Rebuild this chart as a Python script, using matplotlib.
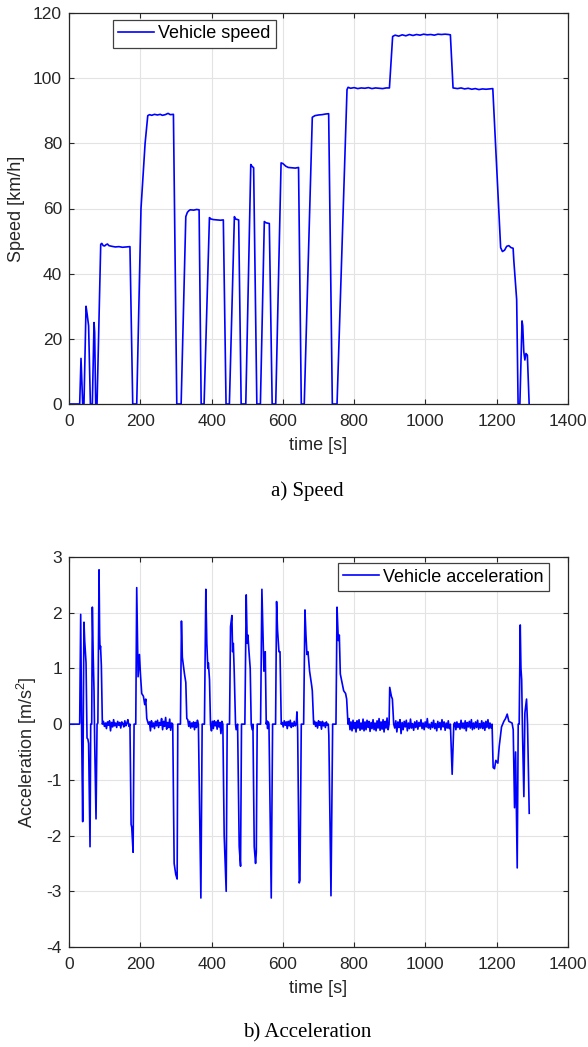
import matplotlib
matplotlib.use("Agg")
import matplotlib.pyplot as plt
import numpy as np

plt.rcParams['font.family'] = ['Liberation Sans', 'DejaVu Sans']
plt.rcParams['axes.unicode_minus'] = False
plt.rcParams['mathtext.fontset'] = 'custom'
plt.rcParams['mathtext.rm'] = 'Liberation Sans'

# speed trace [s], [km/h]
speed_t = [0, 30, 33.7, 38.4, 40, 42, 47.8, 51, 55, 60, 65.5, 70.2, 72, 74.9, 78.7,
           89, 92, 96, 100, 104, 108, 112, 120, 130, 140, 150, 160, 171, 178.8,
           190, 202, 213.5, 221, 226, 232, 240, 248, 256, 262, 270, 278, 284, 293, 302.4,
           314.6, 327.7, 332, 336, 340, 350, 358, 365, 370.8,
           379, 394, 398, 405, 415, 425, 433, 440.6,
           450, 464, 467, 476, 483,
           496, 510, 513, 518, 527,
           537, 548, 553, 562, 570,
           580, 595, 600, 608, 615, 625, 635, 644, 651.7,
           660, 682.6, 690, 700, 710, 720, 728.5, 738.8,
           752, 780, 783, 790, 800, 810, 820, 830, 840, 850, 860, 870, 880, 890, 899,
           908, 915, 925, 935, 945, 955, 965, 975, 985, 995, 1005, 1015, 1025, 1035,
           1045, 1055, 1065, 1070,
           1077.5, 1090, 1100, 1110, 1120, 1130, 1140, 1150, 1160, 1170, 1180, 1189,
           1211, 1216, 1222, 1228, 1234, 1240, 1246, 1248, 1256, 1258, 1260, 1265,
           1271, 1273, 1276, 1279, 1282, 1286, 1291]
speed_v = [0, 0, 14, 0, 0, 0, 30, 27.5, 24, 0, 0, 25, 22, 0, 0,
           49, 49.3, 48.6, 48.5, 48.9, 49.1, 48.6, 48.4, 48.2, 48.3, 48.1, 48.2, 48.3, 0,
           0, 60, 80, 88.5, 88.8, 88.6, 88.9, 88.7, 88.9, 88.6, 88.8, 89.2, 88.8, 88.9, 0,
           0, 57.5, 58.8, 59.3, 59.6, 59.5, 59.7, 59.6, 0,
           0, 57.2, 56.8, 56.6, 56.5, 56.4, 56.5, 0,
           0, 57.5, 56.8, 56.5, 0,
           0, 73.5, 73.0, 72.5, 0,
           0, 56, 55.6, 55.4, 0,
           0, 74, 73.8, 73.0, 72.6, 72.5, 72.4, 72.6, 0,
           0, 88, 88.5, 88.7, 88.8, 89, 89.1, 0,
           0, 96.5, 97.2, 96.9, 97.1, 96.8, 97.0, 96.9, 97.1, 96.8, 97.0, 96.9, 96.8, 97.0, 97.0,
           112.8, 113.2, 112.9, 113.3, 113.0, 113.4, 113.1, 113.4, 113.2, 113.5, 113.3, 113.4, 113.2, 113.5,
           113.4, 113.5, 113.4, 113.3,
           97.0, 96.8, 97.0, 96.7, 96.9, 96.6, 96.8, 96.5, 96.7, 96.6, 96.7, 96.8,
           48, 46.8, 47.2, 48.4, 48.6, 48.0, 47.8, 44, 32, 15, 0, 0,
           25.5, 24, 16, 13.5, 15.5, 15, 0]

# acceleration peaks / steps [s], [m/s^2]
acc_t = [0, 29, 30, 32.8, 35.6, 38.4, 40, 42, 44, 47.8, 50.6, 53, 55, 59, 60.9, 63.7,
         65.5, 68, 70.2, 72, 75.8, 78.7, 81, 84.3, 86, 87, 88.5, 90.8, 93.6,
         171, 174.2, 176, 179.8, 182.6, 187.3, 190, 193.8, 197.6, 200.4, 204, 208.8,
         212.5, 215.4, 218.2, 222.8,
         291, 295, 299.6, 303.4, 305.2, 312.7, 315.5, 318, 321, 324, 327.7, 330.5,
         363, 370, 373.6, 380, 383.9, 386.7, 389.5, 391, 394.2, 397,
         431.6, 435.4, 441, 443.8, 450.4, 453.2, 457, 459, 461, 463.5, 467.2, 469, 473,
         477.5, 481.3, 484, 493.4, 497.2, 500, 502, 505, 508.4, 511.2, 514, 516,
         519.7, 523.4, 525.5, 528, 537.5, 541.2, 544, 546.8, 550.6, 553.4,
         561, 567.4, 571.2, 579.6, 582.4, 585, 589, 592, 595.5,
         637.6, 639.5, 641.5, 646, 648, 651.7, 658.3, 662, 664.8, 667.6, 670.5, 675,
         680.7, 682.6, 686.4,
         727.5, 729, 735, 739.7, 749, 752, 755.6, 758.4, 761.2, 766, 770.6, 776, 779,
         782.8,
         898, 899.8, 904.5, 907.3, 911,
         1070, 1075, 1079.6,
         1187, 1190, 1193.8, 1197.5, 1203.2, 1207, 1208.8, 1213.5, 1220, 1224.7,
         1229.4, 1234, 1243, 1246.3, 1250, 1253, 1257.5, 1260.3, 1263, 1266, 1268,
         1270, 1272.5, 1276.2, 1279, 1283.7, 1286.5, 1291.2]
acc_v = [0, 0, 0.02, 1.97, -0.2, -1.75, 0, 1.83, 1.5, 1.1, -0.25, -0.27, -0.35, -2.2, 0, 0,
         2.1, 1.2, 0.6, -0.3, -1.7, 0, 0.02, 2.77, 1.6, 1.35, 1.4, 1.05, 0,
         0, -1.8, -1.85, -2.3, 0, 0, 2.45, 0.85, 1.25, 0.9, 0.55, 0.5,
         0.35, 0.45, 0.1, 0,
         0, -2.5, -2.7, -2.78, 0, 0, 1.85, 1.2, 1.05, 0.9, 0.75, 0.1,
         0, -3.12, 0, 0, 2.42, 1.45, 1.0, 1.1, 0.8, 0,
         0, -2.0, -3.0, 0, 0, 1.75, 1.95, 1.3, 1.45, 0.95, 0, -0.1, 0,
         -2.2, -2.55, 0, 0, 2.32, 1.45, 1.6, 1.3, 1.0, 0, -0.1, 0,
         -2.2, -2.5, -2.3, 0, 0, 2.42, 1.65, 0.95, 1.3, 0,
         0, -3.12, 0, 0, 2.2, 1.7, 1.3, 1.3, 0,
         0, 0.22, -0.1, -2.85, -2.8, 0, 0, 2.05, 1.6, 1.25, 1.3, 0.95,
         0.7, 0.6, 0,
         0, -0.2, -3.08, 0, 0, 2.1, 1.5, 1.6, 0.9, 0.75, 0.6, 0.55, 0.45,
         0,
         0, 0.66, 0.5, 0.45, 0,
         0, -0.9, 0,
         0, -0.78, -0.8, -0.65, -0.7, -0.4, -0.3, -0.05, 0.05, 0.1,
         0.18, 0.05, 0.02, -0.1, -1.5, -0.5, -2.58, 0, 0, 1.78, 1.0,
         0.8, -0.2, -1.3, 0.2, 0.45, 0, -1.6]

# small ripple on the cruising sections: (start, end, values)
noise_segments = [
    (93.6, 171, [0.05, -0.04, 0.02, -0.08, 0.04, -0.02, 0.06, -0.12, 0.03, -0.05, 0.08, -0.03, 0.02,
                 -0.06, 0.05, -0.02, 0.03, -0.07, 0.04, 0.01, -0.05, 0.06, -0.03, 0.02, 0.08, -0.04]),
    (222.8, 291, [0.04, -0.12, 0.06, -0.05, 0.02, -0.08, 0.05, -0.03, 0.07, -0.06, 0.03, -0.02,
                  0.1, -0.1, 0.05, -0.04, 0.12, -0.09, 0.03, -0.06, 0.09, -0.11, 0.02]),
    (330.5, 363, [0.08, -0.04, 0.05, -0.07, 0.02, -0.05, 0.04, -0.1, 0.03, -0.06, 0.07]),
    (397, 431.6, [-0.12, 0.05, -0.08, 0.06, -0.03, 0.04, -0.09, 0.07, -0.05, 0.03, -0.17, 0.05]),
    (553.4, 561, [0.06, -0.08, 0.04]),
    (595.5, 637.6, [0.03, -0.05, 0.06, -0.02, 0.04, -0.08, 0.05, -0.03, 0.07, -0.06, 0.02, -0.04,
                    0.05, -0.03]),
    (686.4, 727.5, [0.05, -0.04, 0.03, -0.07, 0.06, -0.02, 0.04, -0.09, 0.05, -0.03, 0.02, -0.06,
                    0.04, -0.02]),
    (782.8, 898, [0.1, -0.1, 0.04, -0.12, 0.07, -0.08, 0.03, -0.14, 0.06, -0.07, 0.08, -0.11, 0.02,
                  -0.09, 0.09, -0.12, 0.04, -0.1, 0.07, -0.06, 0.05, -0.13, 0.03, -0.08, 0.08, -0.1,
                  0.02, -0.12, 0.06, -0.07, 0.1, -0.11, 0.04, -0.09, 0.08, -0.14, 0.05, -0.07, 0.11,
                  -0.1]),
    (911, 1070, [-0.07, 0.06, -0.14, 0.04, -0.06, 0.08, -0.17, 0.03, -0.1, 0.05, -0.05, 0.07, -0.12,
                 0.02, -0.08, 0.09, -0.07, 0.01, -0.11, 0.04, -0.06, 0.06, -0.09, 0.03, -0.04, 0.08,
                 -0.08, 0.02, -0.1, 0.04, -0.05, 0.1, -0.07, 0.0, -0.09, 0.03, -0.06, 0.07, -0.08,
                 0.01, -0.12, 0.05, -0.06, 0.03, -0.1, 0.08, -0.05, 0.04, -0.11, 0.02, -0.07, 0.06,
                 -0.08]),
    (1079.6, 1187, [0.03, -0.1, 0.04, -0.06, 0.01, -0.09, 0.07, -0.07, 0.02, -0.08, 0.06, -0.12,
                    0.03, -0.05, 0.05, -0.07, 0.08, -0.1, 0.02, -0.08, 0.04, -0.06, 0.07, -0.09,
                    0.01, -0.07, 0.06, -0.08, 0.03, -0.11, 0.05, -0.06, 0.08, -0.08, 0.02, -0.07]),
]

t_all = list(acc_t)
a_all = list(acc_v)
for t0, t1, vals in noise_segments:
    tt = np.linspace(t0, t1, len(vals) + 2)[1:-1]
    t_all += list(tt)
    a_all += vals
order = np.argsort(t_all, kind='stable')
acc_time = np.array(t_all)[order]
acc_val = np.array(a_all)[order]

blue = '#0000ff'
tick_fs = 12.5
lab_fs = 13

fig = plt.figure(figsize=(5.88, 10.47), dpi=100)
ax1 = fig.add_axes([69/588, 1 - 404/1047, 499/588, 391/1047])
ax2 = fig.add_axes([69/588, 1 - 947/1047, 499/588, 390/1047])


def style(ax):
    ax.grid(True, color='#e3e3e3', linewidth=0.8)
    ax.set_axisbelow(True)
    for s in ax.spines.values():
        s.set_linewidth(0.9)
        s.set_color('#262626')
    ax.tick_params(direction='in', length=3.8, width=0.8, top=True, right=True,
                   labelsize=tick_fs, colors='#262626', labelcolor='#262626')
    ax.tick_params(axis='x', pad=7)
    ax.tick_params(axis='y', pad=5)
    ax.set_xlim(0, 1400)
    ax.set_xticks(np.arange(0, 1401, 200))


ax1.plot(speed_t, speed_v, color=blue, linewidth=1.2, label='Vehicle speed')
style(ax1)
ax1.set_ylim(0, 120)
ax1.set_yticks(np.arange(0, 121, 20))
ax1.set_xlabel('time [s]', fontsize=lab_fs, color='#262626')
ax1.set_ylabel('Speed [km/h]', fontsize=lab_fs, color='#262626')
ax1.xaxis.set_label_coords(0.5, -0.085)
ax1.yaxis.set_label_coords(-0.088, 0.5)
leg1 = ax1.legend(loc='upper left', bbox_to_anchor=(0.0876, 0.982), borderaxespad=0,
                  fontsize=lab_fs, fancybox=False, framealpha=1, edgecolor='#404040',
                  handlelength=2.0, handletextpad=0.2, borderpad=0.3)
leg1.get_frame().set_linewidth(0.9)

ax2.plot(acc_time, acc_val, color=blue, linewidth=1.2, label='Vehicle acceleration')
style(ax2)
ax2.set_ylim(-4, 3)
ax2.set_yticks(np.arange(-4, 4, 1))
ax2.set_xlabel('time [s]', fontsize=lab_fs, color='#262626')
ax2.set_ylabel(r'Acceleration [m/s$^\mathregular{2}$]', fontsize=lab_fs, color='#262626')
ax2.xaxis.set_label_coords(0.5, -0.085)
ax2.yaxis.set_label_coords(-0.0595, 0.5)
leg2 = ax2.legend(loc='upper right', bbox_to_anchor=(0.9613, 0.9838), borderaxespad=0,
                  fontsize=lab_fs, fancybox=False, framealpha=1, edgecolor='#404040',
                  handlelength=2.0, handletextpad=0.2, borderpad=0.3)
leg2.get_frame().set_linewidth(0.9)

fig.text(307/588, 1 - 491/1047, 'a) Speed', family='Liberation Serif', fontsize=15,
         ha='center', va='center')
fig.text(307/588, 1 - 1033/1047, 'b) Acceleration', family='Liberation Serif', fontsize=15,
         ha='center', va='center')

fig.savefig('out.png', dpi=100)
